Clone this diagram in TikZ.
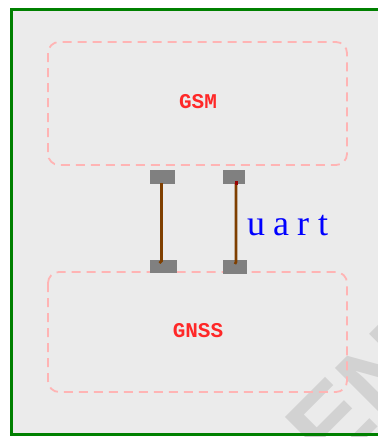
\documentclass[tikz,border=0pt]{standalone}
\usepackage{fontspec}
\setmainfont{Liberation Serif}
\newfontfamily\monofont{Liberation Mono}
\newfontfamily\sansfont{Liberation Sans}
\definecolor{bgray}{HTML}{EBEBEB}
\definecolor{frameg}{HTML}{008000}
\definecolor{dashpink}{HTML}{FFB4B4}
\definecolor{labred}{HTML}{FF2828}
\definecolor{padgray}{HTML}{808080}
\definecolor{wire}{HTML}{7F3F00}
\definecolor{wmark}{HTML}{D2D2D2}
\tikzset{
  module/.style={draw=dashpink, line width=1.8pt, dash pattern=on 9pt off 6pt, rounded corners=11pt},
  modlabel/.style={text=labred, font=\monofont\bfseries\fontsize{21}{21}\selectfont},
  pad/.style={fill=padgray, draw=none},
  wirestyle/.style={draw=wire, line width=2.6pt},
}
\begin{document}
\begin{tikzpicture}[x=1pt,y=-1pt]
\useasboundingbox (0,0) rectangle (378,437);
\begin{scope}
\clip (0,0) rectangle (378,437);
\fill[bgray] (11.5,9.5) rectangle (400,434.5);
\node[text=wmark, font=\sansfont\bfseries\fontsize{105}{105}\selectfont, rotate=45, anchor=base west, inner sep=0pt] (wm) at (331.5,474) {EN};
\draw[frameg, line width=3pt] (400,9.5) -- (11.5,9.5) -- (11.5,434.5) -- (400,434.5);
\end{scope}
% modules
\draw[module] (48,42) rectangle (347,165);
\node[modlabel] (gsm) at (198,102) {GSM};
\draw[module] (48,272) rectangle (347,392);
\node[modlabel] (gnss) at (198,331) {GNSS};
% pads
\node[pad, minimum width=25pt, minimum height=14pt, inner sep=0pt] (p1) at (162.5,177) {};
\node[pad, minimum width=27pt, minimum height=13pt, inner sep=0pt] (p2) at (163.5,266) {};
\node[pad, minimum width=22pt, minimum height=14pt, inner sep=0pt] (p3) at (234,177) {};
\node[pad, minimum width=24pt, minimum height=14pt, inner sep=0pt] (p4) at (235,267) {};
\draw[wirestyle] (161.5,183) -- (161.5,261) -- (159.5,263);
\draw[wirestyle] (236,183) -- (236,262) -- (235,264);
\fill[red!60!black] (235,181) rectangle (238,185);
\node[text=blue, font=\fontsize{36}{36}\selectfont, anchor=west, inner sep=0pt] (uart) at (247,226) {u\hspace{8pt}a\hspace{8pt}r\hspace{9pt}t};
\end{tikzpicture}
\end{document}
